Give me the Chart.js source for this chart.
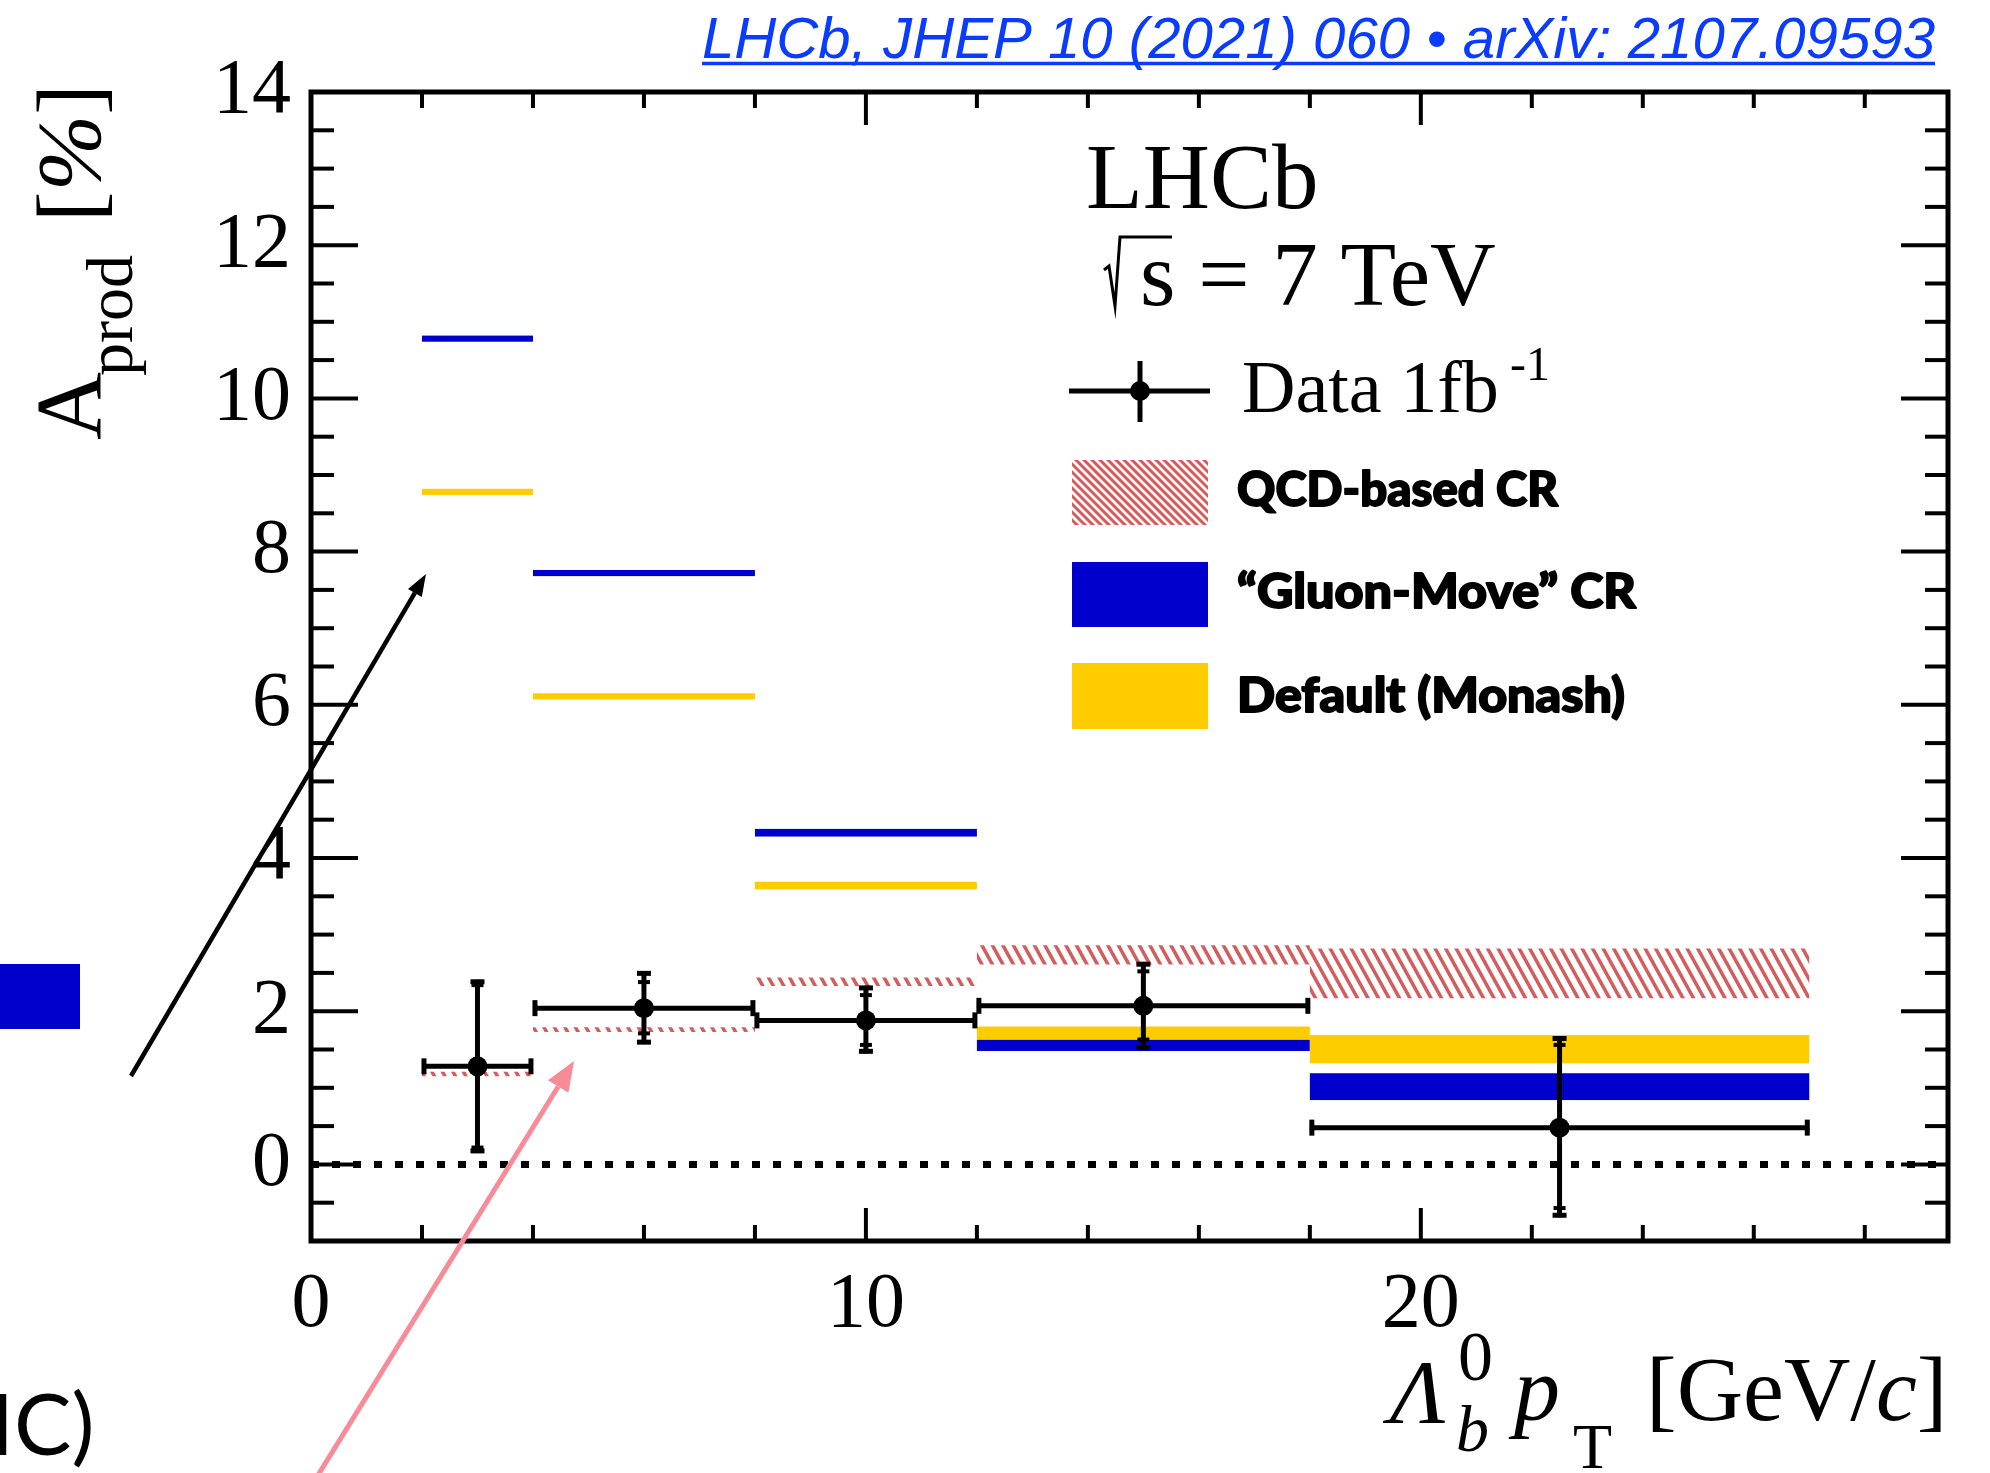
<!DOCTYPE html>
<html>
<head>
<meta charset="utf-8">
<script src="https://cdn.jsdelivr.net/npm/chart.js@4.4.1/dist/chart.umd.min.js"></script>
<style>
html, body { margin: 0; padding: 0; background: #fff; }
#wrap { width: 1990px; height: 1473px; position: relative; }
</style>
</head>
<body>
<div id="wrap"><canvas id="graph-aprod" width="1990" height="1473"></canvas></div>
<script>
// pT bins [GeV/c]
const binLow = [2, 4, 8, 12, 18];
const binHigh = [4, 8, 12, 18, 27];
const binCentre = [3, 6, 10, 15, 22.5];

// LHCb data, A_prod [%]
const dataAprod = [1.28, 2.04, 1.88, 2.07, 0.48];
const errTotUp = [1.13, 0.48, 0.45, 0.57, 1.19];
const errTotDown = [1.13, 0.47, 0.43, 0.57, 1.17];
const errStatUp = [1.06, 0.34, 0.33, 0.45, 1.08];
const errStatDown = [1.06, 0.33, 0.32, 0.44, 1.05];

// Pythia bands (low / high edge)
const qcdLow = [1.15, 1.73, 2.33, 2.61, 2.17];
const qcdHigh = [1.21, 1.79, 2.44, 2.86, 2.82];
const gluonLow = [10.74, 7.68, 4.28, 1.48, 0.84];
const gluonHigh = [10.82, 7.76, 4.38, 1.63, 1.19];
const monashLow = [8.74, 6.07, 3.59, 1.63, 1.32];
const monashHigh = [8.82, 6.15, 3.69, 1.80, 1.69];

// tick labels
const xTickLabels = [0, 10, 20];
const yTickLabels = [0, 2, 4, 6, 8, 10, 12, 14];

const SERIF = '"Liberation Serif", "Times New Roman", serif';
const BLUE = 'rgb(0,0,204)';
const YELLOW = 'rgb(255,204,0)';
const HATCH = 'rgb(212,92,92)';

const $graph = document.querySelector('#graph-aprod');

function hatch(ctx, x0, y0, x1, y1, k, sp, lw) {
  ctx.save();
  ctx.beginPath();
  ctx.rect(x0, y0, x1 - x0, y1 - y0);
  ctx.clip();
  ctx.strokeStyle = HATCH;
  ctx.lineWidth = lw;
  ctx.beginPath();
  const c0 = Math.floor((x0 - k * y1) / sp) * sp;
  for (let c = c0; c <= x1 - k * y0 + sp; c += sp) {
    ctx.moveTo(c + k * (y0 - 2), y0 - 2);
    ctx.lineTo(c + k * (y1 + 2), y1 + 2);
  }
  ctx.stroke();
  ctx.restore();
}

function seg(ctx, xa, ya, xb, yb) {
  ctx.beginPath(); ctx.moveTo(xa, ya); ctx.lineTo(xb, yb); ctx.stroke();
}

function arrow(ctx, xa, ya, xb, yb, color, lw, hl, hw) {
  const ang = Math.atan2(yb - ya, xb - xa);
  const bx = xb - hl * Math.cos(ang), by = yb - hl * Math.sin(ang);
  ctx.strokeStyle = color; ctx.fillStyle = color; ctx.lineWidth = lw;
  seg(ctx, xa, ya, bx, by);
  ctx.beginPath();
  ctx.moveTo(xb, yb);
  ctx.lineTo(bx + hw * Math.sin(ang), by - hw * Math.cos(ang));
  ctx.lineTo(bx - hw * Math.sin(ang), by + hw * Math.cos(ang));
  ctx.closePath();
  ctx.fill();
}

function fitText(ctx, txt, x, y, w, font, bold) {
  ctx.font = font;
  const m = ctx.measureText(txt).width;
  ctx.save();
  ctx.translate(x, y);
  ctx.scale(w / m, 1);
  ctx.fillText(txt, 0, 0);
  if (bold) {
    ctx.lineWidth = bold;
    ctx.lineJoin = 'round';
    ctx.strokeText(txt, 0, 0);
  }
  ctx.restore();
}

const bandsPlugin = {
  id: 'bands',
  beforeDatasetsDraw(chart) {
    const ctx = chart.ctx, x = chart.scales.x, y = chart.scales.y, a = chart.chartArea;
    ctx.save();
    for (let i = 0; i < binLow.length; i++) {
      const xa = x.getPixelForValue(binLow[i]), xb = x.getPixelForValue(binHigh[i]);
      hatch(ctx, xa, y.getPixelForValue(qcdHigh[i]), xb, y.getPixelForValue(qcdLow[i]), 0.55, 10.5, 3.5);
      ctx.fillStyle = BLUE;
      ctx.fillRect(xa, y.getPixelForValue(gluonHigh[i]), xb - xa,
        y.getPixelForValue(gluonLow[i]) - y.getPixelForValue(gluonHigh[i]));
      ctx.fillStyle = YELLOW;
      ctx.fillRect(xa, y.getPixelForValue(monashHigh[i]), xb - xa,
        y.getPixelForValue(monashLow[i]) - y.getPixelForValue(monashHigh[i]));
    }
    // dashed zero line
    ctx.strokeStyle = '#000';
    ctx.lineWidth = 7;
    ctx.setLineDash([8, 13]);
    const y0 = y.getPixelForValue(0);
    seg(ctx, a.left, y0, a.right, y0);
    ctx.setLineDash([]);
    // error bars
    ctx.lineWidth = 5;
    for (let i = 0; i < binCentre.length; i++) {
      const xc = x.getPixelForValue(binCentre[i]);
      const xa = x.getPixelForValue(binLow[i]), xb = x.getPixelForValue(binHigh[i]);
      const yc = y.getPixelForValue(dataAprod[i]);
      seg(ctx, xa, yc, xb, yc);
      seg(ctx, xa + 2, yc - 8, xa + 2, yc + 8);
      seg(ctx, xb - 2, yc - 8, xb - 2, yc + 8);
      const yt = y.getPixelForValue(dataAprod[i] + errTotUp[i]);
      const yd = y.getPixelForValue(dataAprod[i] - errTotDown[i]);
      seg(ctx, xc, yt, xc, yd);
      seg(ctx, xc - 7, yt + 2, xc + 7, yt + 2);
      seg(ctx, xc - 7, yd - 2, xc + 7, yd - 2);
      const ys = y.getPixelForValue(dataAprod[i] + errStatUp[i]);
      const yu = y.getPixelForValue(dataAprod[i] - errStatDown[i]);
      ctx.lineWidth = 4;
      seg(ctx, xc - 6, ys, xc + 6, ys);
      seg(ctx, xc - 6, yu, xc + 6, yu);
      ctx.lineWidth = 5;
    }
    ctx.restore();
  }
};

const framePlugin = {
  id: 'frame',
  afterDraw(chart) {
    const ctx = chart.ctx, x = chart.scales.x, y = chart.scales.y, a = chart.chartArea;
    ctx.save();
    ctx.strokeStyle = '#000';
    ctx.fillStyle = '#000';
    ctx.lineWidth = 4;
    for (let v = 2; v < x.max; v += 2) {
      const px = x.getPixelForValue(v);
      const len = v % 10 === 0 ? 33 : 16;
      seg(ctx, px, a.bottom, px, a.bottom - len);
      seg(ctx, px, a.top, px, a.top + len);
    }
    for (let v = y.min + 0.5; v < y.max; v += 0.5) {
      const py = y.getPixelForValue(v);
      const len = (Math.abs(v % 2) < 1e-6) ? 47 : 23;
      seg(ctx, a.left, py, a.left + len, py);
      seg(ctx, a.right, py, a.right - len, py);
    }
    ctx.lineWidth = 5;
    ctx.strokeRect(a.left, a.top, a.right - a.left, a.bottom - a.top);

    // reference link
    ctx.fillStyle = 'rgb(10,60,255)';
    ctx.strokeStyle = 'rgb(10,60,255)';
    ctx.textBaseline = 'alphabetic';
    ctx.textAlign = 'left';
    fitText(ctx, 'LHCb, JHEP 10 (2021) 060 \u2022 arXiv: 2107.09593', 702, 58, 1233,
      'italic 57px "Liberation Sans", Arial, sans-serif');
    ctx.lineWidth = 3.4;
    seg(ctx, 702, 63.5, 1935, 63.5);

    // LHCb label
    ctx.fillStyle = '#000';
    ctx.strokeStyle = '#000';
    ctx.font = '93px ' + SERIF;
    ctx.fillText('LHCb', 1086, 208);
    ctx.font = '91px ' + SERIF;
    ctx.fillText('s = 7 TeV', 1140, 305);
    ctx.lineWidth = 3;
    ctx.beginPath();
    ctx.moveTo(1104, 270); ctx.lineTo(1109, 266); ctx.lineTo(1115, 306);
    ctx.lineTo(1120, 237); ctx.lineTo(1172, 237);
    ctx.stroke();

    // legend: data marker
    ctx.lineWidth = 5;
    seg(ctx, 1069, 391, 1210, 391);
    seg(ctx, 1140, 361, 1140, 422);
    ctx.beginPath(); ctx.arc(1140, 391, 10, 0, Math.PI * 2); ctx.fill();
    ctx.font = '74px ' + SERIF;
    ctx.fillText('Data 1fb', 1242, 412);
    ctx.font = '48px ' + SERIF;
    ctx.fillText('-1', 1510, 380);

    // legend boxes
    hatch(ctx, 1072, 460, 1208, 525, 1.0, 8, 3);
    ctx.fillStyle = BLUE; ctx.fillRect(1072, 562, 136, 65);
    ctx.fillStyle = YELLOW; ctx.fillRect(1072, 663, 136, 66);
    ctx.fillStyle = '#000';
    ctx.strokeStyle = '#000';
    const LF = '900 47px Lato, "DejaVu Sans", sans-serif';
    fitText(ctx, 'QCD-based CR', 1237, 506, 321, LF, 1.8);
    fitText(ctx, '\u201cGluon-Move\u201d CR', 1237, 608, 399, LF, 1.8);
    fitText(ctx, 'Default (Monash)', 1237, 712, 388, LF, 1.8);

    // y title
    ctx.save();
    ctx.translate(100, 440);
    ctx.rotate(-Math.PI / 2);
    ctx.font = '94px ' + SERIF;
    ctx.fillText('A', 0, 0);
    ctx.font = '66px ' + SERIF;
    ctx.fillText('prod', 64, 32);
    ctx.font = '92px ' + SERIF;
    ctx.fillText('[', 218, 0);
    let w = ctx.measureText('[').width;
    ctx.font = 'italic 92px ' + SERIF;
    ctx.fillText('%', 218 + w, 0);
    w += ctx.measureText('%').width;
    ctx.font = '92px ' + SERIF;
    ctx.fillText(']', 218 + w, 0);
    ctx.restore();

    // x title
    ctx.font = 'italic 92px ' + SERIF;
    ctx.fillText('\u039b', 1390, 1423);
    ctx.font = '70px ' + SERIF;
    ctx.fillText('0', 1458, 1380);
    ctx.font = 'italic 66px ' + SERIF;
    ctx.fillText('b', 1456, 1451);
    ctx.font = 'italic 92px ' + SERIF;
    ctx.fillText('p', 1514, 1420);
    ctx.font = '64px ' + SERIF;
    ctx.fillText('T', 1573, 1468);
    ctx.font = '92px ' + SERIF;
    let xx = 1646;
    ctx.fillText('[GeV/', xx, 1420);
    xx += ctx.measureText('[GeV/').width;
    ctx.font = 'italic 92px ' + SERIF;
    ctx.fillText('c', xx, 1420);
    xx += ctx.measureText('c').width;
    ctx.font = '92px ' + SERIF;
    ctx.fillText(']', xx, 1420);

    // slide leftovers
    ctx.fillStyle = BLUE;
    ctx.fillRect(0, 964, 80, 65);
    ctx.fillStyle = '#000';
    ctx.font = '86px Lato, "Open Sans", sans-serif';
    ctx.fillText('IC)', -10, 1455);
    arrow(ctx, 131, 1076, 426, 574, '#000', 4.5, 22, 8);
    arrow(ctx, 315, 1480, 574, 1061, 'rgb(247,140,152)', 5, 30, 12);
    ctx.restore();
  }
};

new Chart($graph, {
  type: 'scatter',
  data: {
    datasets: [{
      label: 'Data 1fb-1',
      data: binCentre.map((c, i) => ({ x: c, y: dataAprod[i] })),
      backgroundColor: '#000',
      borderColor: '#000',
      pointRadius: 10,
      pointHoverRadius: 10,
      borderWidth: 0
    }]
  },
  options: {
    responsive: false,
    animation: false,
    events: [],
    layout: { padding: { left: 0, top: 92, right: 42, bottom: 0 } },
    plugins: { legend: { display: false }, tooltip: { enabled: false } },
    scales: {
      x: {
        type: 'linear', min: 0, max: 29.5,
        grid: { display: false, drawTicks: false },
        border: { display: false },
        afterBuildTicks: s => { s.ticks = xTickLabels.map(v => ({ value: v })); },
        afterFit: s => { s.height = 232; },
        ticks: { color: '#000', padding: 18, maxRotation: 0, autoSkip: false, font: { family: SERIF, size: 78 } }
      },
      y: {
        type: 'linear', min: -1, max: 14,
        grid: { display: false, drawTicks: false },
        border: { display: false },
        afterBuildTicks: s => { s.ticks = yTickLabels.map(v => ({ value: v })); },
        afterFit: s => { s.width = 311; },
        ticks: { color: '#000', padding: 20, font: { family: SERIF, size: 78 } }
      }
    }
  },
  plugins: [bandsPlugin, framePlugin]
});
</script>
</body>
</html>
